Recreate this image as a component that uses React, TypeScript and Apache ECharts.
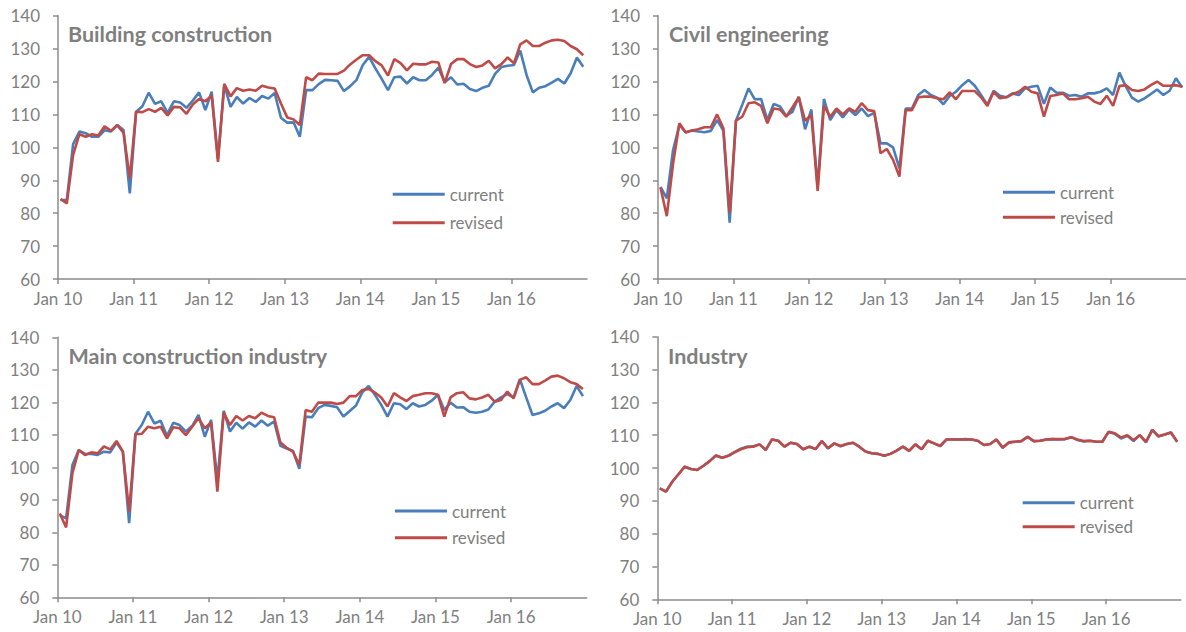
import React, { useEffect, useRef } from "react";
import * as echarts from "echarts";

const yearLabels = ["Jan 10", "Jan 11", "Jan 12", "Jan 13", "Jan 14", "Jan 15", "Jan 16"];
const panelTitles = ["Building construction", "Civil engineering", "Main construction industry", "Industry"];
const seriesNames = ["current", "revised"];

const buildingCurrent = [
  84, 84, 101, 104.8, 104.3, 103.2, 103.2, 105.2, 104.8, 106.8, 105.3, 86,
  110.8, 112.5, 116.6, 113.2, 114, 110.5, 114, 113.6, 112, 114.2, 116.7, 111.3,
  116.9, 96.5, 119, 112.3, 115.3, 113.3, 115, 113.8, 115.6, 114.8, 116.5, 109,
  107.5, 107.6, 103.2, 117.4, 117.4, 119.2, 120.5, 120.4, 120.2, 117.1, 118.6, 120.5,
  125, 127.5, 124, 120.8, 117.4, 121.3, 121.5, 119.4, 121.3, 120.4, 120.4, 122,
  124.2, 119.8, 121.3, 119.1, 119.3, 117.7, 117.1, 118.1, 118.7, 122.3, 124.4, 124.8,
  125, 129.4, 122, 116.7, 118.1, 118.6, 119.7, 120.8, 119.4, 122.5, 127.3, 124.5,
];
const buildingRevised = [
  84.3, 83, 97.7, 104, 103.2, 104, 103.6, 106.4, 105, 106.7, 104.5, 90.6,
  110.8, 110.7, 111.6, 110.8, 112, 109.7, 112.3, 112.2, 110.2, 113, 114.7, 114,
  115.8, 95.6, 119.3, 115.5, 118, 117.2, 117.6, 117.2, 118.7, 118.2, 117.9, 113.3,
  109.1, 108.5, 106.8, 121.3, 120.4, 122.4, 122.3, 122.3, 122.3, 123.3, 125.2, 126.7,
  128, 128, 126.2, 124.9, 121.8, 126.8, 125.6, 123.4, 125.4, 125.2, 125.2, 126,
  125.8, 119.5, 125.3, 126.8, 126.8, 125.3, 124.4, 124.9, 126.3, 124, 125.3, 127.3,
  125.5, 131.3, 132.5, 130.8, 130.8, 131.8, 132.5, 132.7, 132.3, 130.8, 129.8, 128,
];
const civilCurrent = [
  88, 84.5, 99.2, 106.8, 104.5, 105.1, 104.8, 104.6, 105, 108.3, 105.1, 77.1,
  108.1, 112.9, 117.9, 114.6, 114.7, 108.3, 113.2, 112.4, 109.6, 110.8, 115.4, 105.5,
  111.5, 88, 114.7, 108.3, 111.3, 109.1, 111.5, 109.8, 111.8, 109.5, 110.5, 101.2,
  101.2, 100, 93.6, 111.8, 111.8, 115.9, 117.4, 115.9, 115.1, 113.1, 115.6, 116.9,
  118.9, 120.5, 118.7, 115.9, 112.9, 117.2, 115.7, 115.2, 116.4, 115.9, 117.9, 118.4,
  118.7, 113.2, 118.2, 116.6, 116.6, 115.7, 115.9, 115.4, 116.4, 116.4, 116.9, 117.9,
  115.9, 122.7, 118.6, 115.1, 113.9, 114.9, 116.2, 117.6, 115.9, 117.2, 121, 118.2,
];
const civilRevised = [
  87.8, 79.1, 95.1, 107.3, 104.6, 105.1, 105.5, 106.1, 106.1, 110, 105.8, 80,
  108.1, 109.3, 113.4, 113.7, 112.6, 107.3, 111.8, 111.5, 109.3, 112.2, 115.2, 108.1,
  109.8, 86.8, 112.6, 109.3, 111.8, 110, 111.8, 110.8, 113.4, 111.3, 111, 98.2,
  99.5, 96.2, 91.1, 111.3, 111.3, 115.2, 115.4, 115.4, 114.9, 114.6, 116.7, 114.6,
  117.1, 117.1, 117.1, 115.2, 112.6, 116.9, 114.9, 115.2, 116.2, 116.9, 118.4, 116.9,
  116.4, 109.3, 115.6, 115.9, 116.4, 114.6, 114.6, 114.9, 115.4, 113.9, 113.2, 115.7,
  112.6, 118.6, 118.9, 117.4, 117.1, 117.6, 118.9, 120, 118.7, 118.7, 118.9, 118.4,
];
const mainCurrent = [
  85.3, 84.3, 100.7, 105.3, 104.1, 104.1, 103.8, 104.8, 104.6, 107.6, 104.8, 82.8,
  110.3, 113, 117.1, 113.5, 114.3, 109.6, 113.7, 113, 111, 112.7, 116.1, 109.4,
  114.6, 96, 117.4, 111, 113.7, 111.9, 113.8, 112.5, 114.4, 112.8, 114.1, 106.6,
  105.8, 105, 99.5, 115.6, 115.4, 118.2, 119.2, 118.9, 118.5, 115.6, 117.3, 119,
  123.1, 125, 122.3, 119.2, 115.6, 119.7, 119.4, 117.9, 119.7, 118.7, 119.2, 120.5,
  122.3, 117.6, 119.9, 118.4, 118.5, 117.1, 116.8, 117.1, 117.8, 120.2, 121.5, 122.5,
  121.5, 127.1, 121.5, 116.1, 116.6, 117.4, 118.7, 119.7, 118.2, 120.7, 125, 121.9,
];
const mainRevised = [
  85.8, 81.5, 98.2, 105.3, 103.8, 104.6, 104.3, 106.4, 105.5, 108.1, 104.8, 86.4,
  110.2, 110.3, 112.5, 112, 112.5, 108.9, 112.3, 112, 109.9, 112.5, 115.1, 112,
  113.8, 92.5, 116.8, 113, 115.8, 114.4, 115.8, 115.1, 116.8, 115.8, 115.4, 107.6,
  106, 104.8, 100.7, 117.6, 117.1, 119.9, 119.9, 119.9, 119.5, 119.9, 121.9, 121.9,
  123.8, 124.1, 123, 121.5, 118.7, 122.8, 121.5, 120.4, 121.9, 122.3, 122.8, 122.8,
  122.3, 115.6, 121.5, 122.8, 123.1, 121.2, 120.9, 121.5, 122.3, 120.2, 120.7, 123.3,
  121.2, 126.9, 127.7, 125.6, 125.6, 126.7, 127.9, 128.2, 127.4, 126.2, 125.6, 124.1,
];
const industryCurrent = [
  93.8, 92.8, 95.8, 98.1, 100.4, 99.7, 99.4, 100.7, 102.1, 103.8, 103.1, 103.7,
  104.8, 105.9, 106.5, 106.6, 107.2, 105.5, 108.7, 108.3, 106.5, 107.7, 107.3, 105.7,
  106.5, 105.8, 108.2, 106, 107.5, 106.6, 107.3, 107.7, 106.5, 105, 104.5, 104.3,
  103.7, 104.3, 105.3, 106.5, 105.2, 107.2, 105.7, 108.3, 107.5, 106.7, 108.7, 108.7,
  108.7, 108.8, 108.7, 108.3, 107, 107.3, 108.7, 106.2, 107.8, 108, 108.2, 109.5,
  108.2, 108.3, 108.7, 108.8, 108.7, 108.8, 109.4, 108.5, 108.1, 108.3, 108, 108,
  111, 110.4, 109, 109.8, 108.2, 110, 107.8, 111.6, 109.6, 110.2, 110.8, 108,
];
const industryRevised = [
  93.8, 92.8, 95.8, 98.1, 100.4, 99.7, 99.4, 100.7, 102.1, 103.8, 103.1, 103.7,
  104.8, 105.7, 106.3, 106.5, 107.2, 105.5, 108.7, 108.3, 106.5, 107.7, 107.3, 105.7,
  106.5, 105.8, 108.2, 106, 107.5, 106.7, 107.3, 107.7, 106.5, 105, 104.5, 104.3,
  103.7, 104.3, 105.3, 106.5, 105.2, 107.2, 105.7, 108.3, 107.5, 106.7, 108.7, 108.7,
  108.7, 108.7, 108.7, 108.3, 107, 107.3, 108.7, 106.2, 107.8, 108, 108.2, 109.5,
  108.2, 108.3, 108.7, 108.8, 108.8, 108.8, 109.4, 108.7, 108.2, 108.3, 108, 108,
  111, 110.6, 109.3, 110, 108.5, 110, 108, 111.6, 109.7, 110.2, 110.8, 108,
];

const panelData = [
  [buildingCurrent, buildingRevised],
  [civilCurrent, civilRevised],
  [mainCurrent, mainRevised],
  [industryCurrent, industryRevised],
];

// layout
const grids = [
  { left: 58, top: 15.7, width: 529, height: 263.3 },
  { left: 658, top: 15.7, width: 530, height: 263.3 },
  { left: 57.3, top: 337.3, width: 529.4, height: 260 },
  { left: 657.3, top: 336.7, width: 523.6, height: 262.6 },
];
const titlePos = [
  { left: 68, top: 23.4 },
  { left: 669, top: 23.4 },
  { left: 68.5, top: 345.4 },
  { left: 668, top: 345.4 },
];
const legendPos = [
  { left: 392.7, top: 185.3, gap: 10.4 },
  { left: 1003, top: 183.3, gap: 7 },
  { left: 395, top: 502, gap: 8.7 },
  { left: 1022.7, top: 493.7, gap: 6 },
];

const COLORS = ["#4a7ebb", "#be4b48"];
const GREY = "#7f7f7f";
const AXIS_GREY = "#8c8c8c";
const FONT = "Lato";
const X_OFFSET = 0.4;

export default function App() {
  const ref = useRef<HTMLDivElement>(null);
  useEffect(() => {
    if (!ref.current) return;
    const chart = echarts.init(ref.current, undefined, { renderer: "svg" });
    const series: any[] = [];
    panelData.forEach((pair, p) => {
      pair.forEach((vals, s) => {
        series.push({
          type: "line",
          name: seriesNames[s],
          xAxisIndex: p,
          yAxisIndex: p,
          symbol: "none",
          data: vals.map((v, i) => [i + X_OFFSET, v]),
          lineStyle: { color: COLORS[s], width: 2.6 },
          itemStyle: { color: COLORS[s] },
          z: 2 + s,
        });
      });
    });
    chart.setOption({
      animation: false,
      title: panelTitles.map((t, i) => ({
        text: t,
        left: titlePos[i].left,
        top: titlePos[i].top,
        padding: 0,
        textStyle: { fontFamily: FONT, fontSize: 21.5, fontWeight: "bold", color: GREY },
      })),
      legend: legendPos.map((lp) => ({
        data: seriesNames,
        orient: "vertical",
        left: lp.left,
        top: lp.top,
        padding: 0,
        itemGap: lp.gap,
        itemWidth: 52,
        itemHeight: 3,
        icon: "rect",
        selectedMode: false,
        textStyle: { fontFamily: FONT, fontSize: 17, color: GREY, lineHeight: 18 },
      })),
      grid: grids.map((g) => ({ ...g, containLabel: false })),
      xAxis: grids.map((_, i) => ({
        type: "value",
        gridIndex: i,
        min: 0,
        max: 84,
        interval: 12,
        axisLine: { show: true, lineStyle: { color: AXIS_GREY, width: 1.5 } },
        axisTick: { show: true, length: 5, lineStyle: { color: AXIS_GREY, width: 1.5 } },
        splitLine: { show: false },
        axisLabel: {
          margin: 11,
          fontFamily: FONT,
          fontSize: 17,
          color: GREY,
          showMaxLabel: false,
          formatter: (v: number) => yearLabels[Math.round(v / 12)] ?? "",
        },
      })),
      yAxis: grids.map((_, i) => ({
        type: "value",
        gridIndex: i,
        min: 60,
        max: 140,
        interval: 10,
        axisLine: { show: true, lineStyle: { color: AXIS_GREY, width: 1.5 } },
        axisTick: { show: true, length: 5, lineStyle: { color: AXIS_GREY, width: 1.5 } },
        splitLine: { show: false },
        axisLabel: { margin: 18, fontFamily: FONT, fontSize: 17, color: GREY },
      })),
      series,
    });
    return () => chart.dispose();
  }, []);
  return (
    <div
      ref={ref}
      style={{ position: "absolute", left: 0, top: 0, width: 1186, height: 632, background: "#fff" }}
    />
  );
}
